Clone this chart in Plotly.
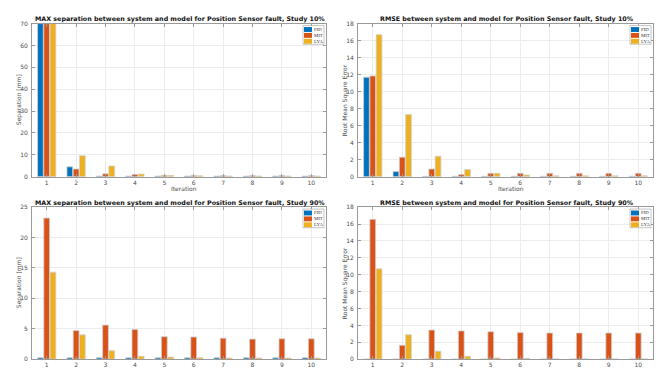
import plotly.graph_objects as go

W, H = 662, 372

iterations = list(range(1, 11))
controllers = ["PID", "MIT", "LYA"]
colors = {"PID": "#0072BD", "MIT": "#D95319", "LYA": "#EDB120"}

# MAX separation [mm], study 10%
max10_pid = [70, 4.5, 0.3, 0.3, 0.3, 0.3, 0.3, 0.3, 0.3, 0.3]
max10_mit = [70, 3.5, 1.3, 1.0, 0.6, 0.5, 0.5, 0.5, 0.5, 0.5]
max10_lya = [70, 9.6, 4.9, 1.2, 0.6, 0.4, 0.3, 0.3, 0.3, 0.3]

# RMSE, study 10%
rmse10_pid = [11.7, 0.6, 0.05, 0.05, 0.05, 0.05, 0.05, 0.05, 0.05, 0.05]
rmse10_mit = [11.85, 2.3, 0.9, 0.25, 0.4, 0.4, 0.4, 0.4, 0.4, 0.4]
rmse10_lya = [16.7, 7.3, 2.4, 0.85, 0.4, 0.2, 0.1, 0.1, 0.1, 0.1]

# MAX separation [mm], study 90%
max90_pid = [0.25, 0.25, 0.25, 0.25, 0.25, 0.25, 0.25, 0.25, 0.25, 0.25]
max90_mit = [23.2, 4.7, 5.6, 4.9, 3.7, 3.65, 3.45, 3.3, 3.35, 3.35]
max90_lya = [14.3, 4.0, 1.4, 0.5, 0.35, 0.25, 0.2, 0.2, 0.2, 0.2]

# RMSE, study 90%
rmse90_pid = [0.02, 0.02, 0.02, 0.02, 0.02, 0.02, 0.02, 0.02, 0.02, 0.02]
rmse90_mit = [16.55, 1.65, 3.45, 3.35, 3.25, 3.15, 3.1, 3.1, 3.1, 3.1]
rmse90_lya = [10.7, 2.9, 0.95, 0.35, 0.15, 0.1, 0.03, 0.03, 0.03, 0.03]

panels = [
    dict(title="MAX separation between system and model for Position Sensor fault, Study 10%",
         ylabel="Separation [mm]", yrange=[0, 70], dtick=10,
         series=[max10_pid, max10_mit, max10_lya], box=(32, 326, 20, 176), xlabel=True),
    dict(title="RMSE between system and model for Position Sensor fault, Study 10%",
         ylabel="Root Mean Square Error", yrange=[0, 18], dtick=2,
         series=[rmse10_pid, rmse10_mit, rmse10_lya], box=(358, 653, 20, 176), xlabel=True),
    dict(title="MAX separation between system and model for Position Sensor fault, Study 90%",
         ylabel="Separation [mm]", yrange=[0, 25], dtick=5,
         series=[max90_pid, max90_mit, max90_lya], box=(32, 326, 207, 362), xlabel=False),
    dict(title="RMSE between system and model for Position Sensor fault, Study 90%",
         ylabel="Root Mean Square Error", yrange=[0, 18], dtick=2,
         series=[rmse90_pid, rmse90_mit, rmse90_lya], box=(358, 653, 207, 362), xlabel=False),
]


def px(x):
    return x / W


def py(y):
    return 1 - y / H


fig = go.Figure()
annotations = []
shapes = []
axis_font = dict(family="DejaVu Sans", size=6, color="#4d4d4d")

for i, p in enumerate(panels, start=1):
    left, right, top, bottom = p["box"]
    xa = "x" if i == 1 else f"x{i}"
    ya = "y" if i == 1 else f"y{i}"
    for name, vals in zip(controllers, p["series"]):
        fig.add_trace(go.Bar(
            x=iterations, y=vals, name=name, xaxis=xa, yaxis=ya,
            marker=dict(color=colors[name], line=dict(color="#d0d0d0", width=0.8)),
            showlegend=False, cliponaxis=True,
        ))
    common = dict(showline=True, linecolor="#9a9a9a", linewidth=0.8, mirror="ticks",
                  ticks="inside", ticklen=3, tickcolor="#9a9a9a", tickwidth=0.6,
                  showgrid=True, gridcolor="#ececec", gridwidth=0.6, zeroline=False,
                  tickfont=axis_font)
    fig.update_layout({
        ("xaxis" if i == 1 else f"xaxis{i}"): dict(
            domain=[px(left), px(right)], anchor=ya, range=[0.5, 10.5],
            tickmode="array", tickvals=iterations, ticklabelstandoff=0, **common),
        ("yaxis" if i == 1 else f"yaxis{i}"): dict(
            domain=[py(bottom), py(top)], anchor=xa, range=p["yrange"],
            dtick=p["dtick"], tick0=0, ticklabelstandoff=2, **common),
    })
    cx = (left + right) / 2
    annotations.append(dict(text=f"<b>{p['title']}</b>", x=px(cx + 1), y=py(top - 4.5),
                            xref="paper", yref="paper", showarrow=False,
                            xanchor="center", yanchor="middle",
                            font=dict(family="DejaVu Sans", size=6.35, color="#111111")))
    annotations.append(dict(text=p["ylabel"], x=px(left - 13), y=py((top + bottom) / 2),
                            xref="paper", yref="paper", showarrow=False, textangle=-90,
                            xanchor="center", yanchor="middle", font=axis_font))
    if p["xlabel"]:
        annotations.append(dict(text="Iteration", x=px(cx + 5), y=py(bottom + 12.5),
                                xref="paper", yref="paper", showarrow=False,
                                xanchor="center", yanchor="middle", font=axis_font))

    # legend box in the upper right corner of each panel
    lr, lt = right - 2, top + 2
    ll, lb = lr - 21, lt + 19
    shapes.append(dict(type="rect", xref="paper", yref="paper",
                       x0=px(ll), x1=px(lr), y0=py(lb), y1=py(lt),
                       line=dict(color="#a0a0a0", width=0.6), fillcolor="white"))
    for k, name in enumerate(controllers):
        cy = lt + 4 + 6 * k
        shapes.append(dict(type="rect", xref="paper", yref="paper",
                           x0=px(ll + 1), x1=px(ll + 9), y0=py(cy + 2.5), y1=py(cy - 2.5),
                           line=dict(width=0), fillcolor=colors[name]))
        annotations.append(dict(text=name, x=px(ll + 9), y=py(cy), xref="paper",
                                yref="paper", showarrow=False, xanchor="left",
                                yanchor="middle",
                                font=dict(family="Liberation Serif", size=4.8, color="#333333")))

fig.update_layout(
    width=W, height=H, margin=dict(l=0, r=0, t=0, b=0),
    paper_bgcolor="white", plot_bgcolor="white",
    barmode="group", bargap=0.36, bargroupgap=0.08,
    annotations=annotations, shapes=shapes, showlegend=False,
)

fig.write_html("out.html")
